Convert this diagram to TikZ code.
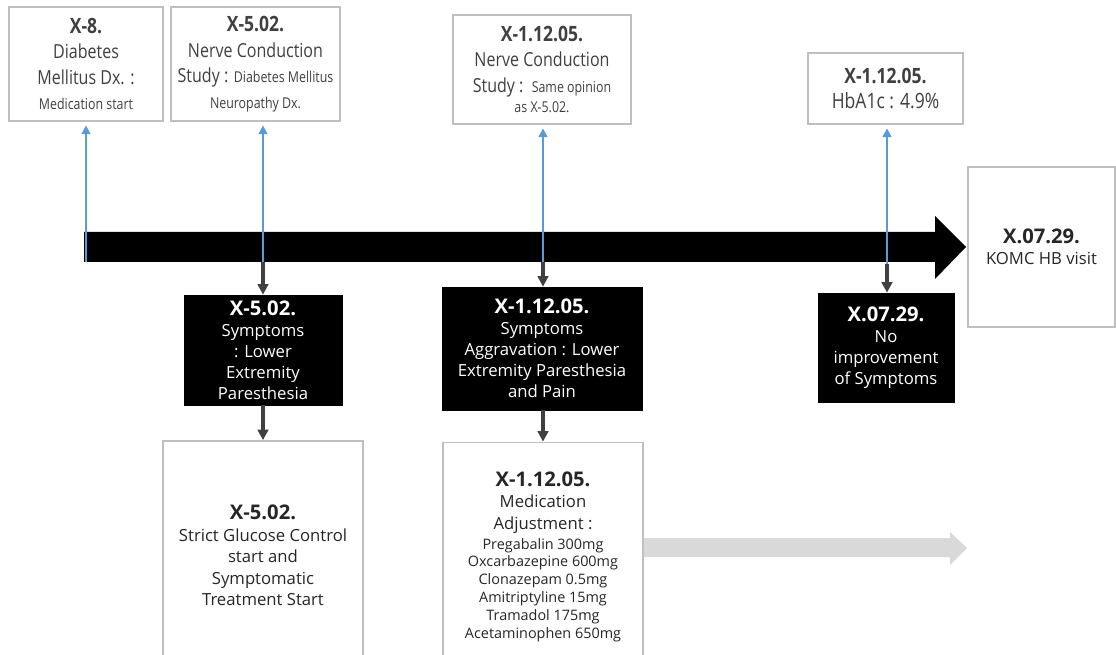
\documentclass[tikz,border=0pt]{standalone}
\usepackage{fontspec}
\setmainfont{Open Sans}
\newfontfamily\narrowfont[FakeStretch=0.83]{Open Sans}
\usetikzlibrary{arrows.meta}
\definecolor{boxline}{HTML}{BFBFBF}
\definecolor{boxtext}{HTML}{404040}
\definecolor{upblue}{HTML}{5B9BD5}
\definecolor{downgray}{HTML}{404040}
\definecolor{lightarrow}{HTML}{D9D9D9}
\newcommand\boxtitle[1]{{\bfseries\fontsize{11.5}{14}\selectfont #1}}
\newcommand\toptitle[1]{{\bfseries\fontsize{12}{15}\selectfont #1}}
\newcommand\smalltxt{\fontsize{8.5}{11}\selectfont}
\newcommand\druglist{\fontsize{8.2}{10}\selectfont}

\begin{document}
\begin{tikzpicture}[
  x=0.02cm, y=-0.02cm,
  topbox/.style={draw=boxline, line width=1pt, fill=white, align=center, text=boxtext,
    inner sep=2pt, font=\narrowfont\fontsize{11}{14.5}\selectfont},
  blkbox/.style={fill=black, draw=black, text=white, align=center, inner sep=2pt,
    font=\fontsize{9.5}{12}\selectfont},
  whtbox/.style={draw=boxline, line width=1pt, fill=white, align=center, text=black!85,
    inner sep=2pt, font=\fontsize{9.5}{12.2}\selectfont},
  upline/.style={draw=upblue, line width=1.3pt, -{Triangle[width=5pt,length=5pt]}, shorten >=2pt},
  downline/.style={draw=downgray, line width=2pt, -{Triangle[width=6pt,length=6pt]}},
]
\useasboundingbox (0,0) rectangle (1116,655);
\clip (0,0) rectangle (1116,655);

% --- time line ---
\fill[black] (84,232) -- (935,232) -- (935,216) -- (966,247) -- (935,279)
  -- (935,262) -- (84,262) -- cycle;
\coordinate (tl1) at (86,262);
\coordinate (tl2) at (263,262);
\coordinate (tl3) at (543,262);
\coordinate (tl4) at (887,264);

% --- top : findings ---
\node[topbox, minimum width=3.08cm, minimum height=2.28cm] (d1) at (86,64)
  {\toptitle{X-8.}\\ Diabetes\\ Mellitus Dx. :\\ {\smalltxt Medication start}};
\node[topbox, minimum width=3.38cm, minimum height=2.28cm] (d2) at (255.5,64)
  {\toptitle{X-5.02.}\\ Nerve Conduction\\ Study : {\smalltxt Diabetes Mellitus}\\ {\smalltxt Neuropathy Dx.}};
\node[topbox, minimum width=3.56cm, minimum height=2.18cm] (d3) at (542,69.5)
  {\toptitle{X-1.12.05.}\\ Nerve Conduction\\ Study :\ \ {\smalltxt Same opinion}\\[-3pt] {\smalltxt as X-5.02.}};
\node[topbox, minimum width=3.1cm, minimum height=1.42cm] (d4) at (885.5,88.5)
  {\toptitle{X-1.12.05.}\\ {\fontsize{12}{14.5}\selectfont HbA1c : 4.9\%}};

\node[whtbox, minimum width=2.94cm, minimum height=3.2cm] (visit) at (1041.5,247)
  {\boxtitle{X.07.29.}\\ KOMC HB visit};

% --- bottom : symptoms ---
\node[blkbox, minimum width=3.16cm, minimum height=2.2cm] (s1) at (263,350)
  {\boxtitle{X-5.02.}\\ Symptoms\\ : Lower\\ Extremity\\ Paresthesia};
\node[blkbox, minimum width=4cm, minimum height=2.46cm] (s2) at (542,348.5)
  {\boxtitle{X-1.12.05.}\\ Symptoms\\ Aggravation : Lower\\ Extremity Paresthesia\\ and Pain};
\node[blkbox, minimum width=2.72cm, minimum height=2.18cm] (s3) at (886,347.5)
  {\boxtitle{X.07.29.}\\ No\\ improvement\\ of Symptoms};

% --- bottom : treatment ---
\node[whtbox, minimum width=4cm, minimum height=4.58cm] (w1) at (263,555.5)
  {\boxtitle{X-5.02.}\\ Strict Glucose Control\\ start and\\ Symptomatic\\ Treatment Start};
\node[whtbox, minimum width=4cm, minimum height=4.58cm] (w2) at (543,557)
  {\boxtitle{X-1.12.05.}\\ Medication\\ Adjustment :\\[-1pt]
   {\druglist Pregabalin 300mg}\\[-2pt] {\druglist Oxcarbazepine 600mg}\\[-2pt]
   {\druglist Clonazepam 0.5mg}\\[-2pt] {\druglist Amitriptyline 15mg}\\[-2pt]
   {\druglist Tramadol 175mg}\\[-2pt] {\druglist Acetaminophen 650mg}};

\fill[lightarrow] (w2.east |- 0,538) -- (950,538) -- (950,532) -- (967,548) -- (950,565)
  -- (950,557) -- (w2.east |- 0,557) -- cycle;

% --- connectors ---
\draw[upline] (tl1) -- (tl1 |- d1.south);
\draw[upline] (tl2) -- (tl2 |- d2.south);
\draw[upline] (tl3) -- (tl3 |- d3.south);
\draw[upline] (tl4) -- (tl4 |- d4.south);

\draw[downline] (tl2) -- (s1.north);
\draw[downline] (tl3) -- (tl3 |- s2.north);
\draw[downline] (tl4) -- (tl4 |- s3.north);
\draw[downline] (s1.south) -- (w1.north);
\draw[downline] (s2.south -| tl3) -- (tl3 |- w2.north);

\end{tikzpicture}
\end{document}
